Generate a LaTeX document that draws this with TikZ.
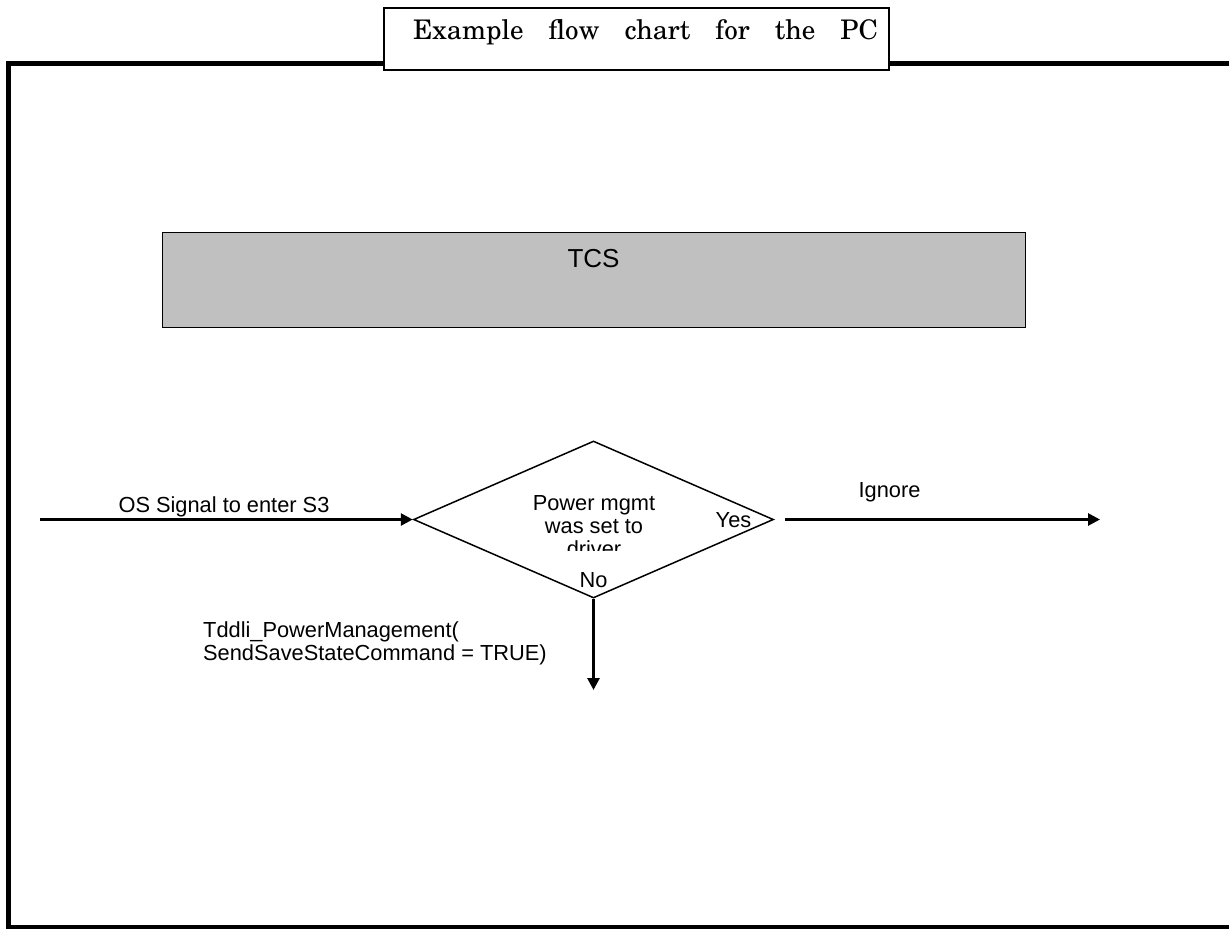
\documentclass[tikz,border=0pt]{standalone}
\usepackage[T1]{fontenc}
\usepackage{fontspec}
\setmainfont{Liberation Sans}
\usetikzlibrary{shapes.geometric,arrows.meta}
\definecolor{boxgray}{HTML}{C0C0C0}
\newcommand{\titlefont}{\fontencoding{T1}\fontfamily{pnc}\fontsize{27}{30}\selectfont}
\tikzset{
  flowarrow/.style={line width=2.8pt,-{Triangle[length=12pt,width=12pt]}},
  lbl/.style={inner sep=0pt,anchor=base,font=\fontsize{21.8}{23}\selectfont},
}
\begin{document}
\begin{tikzpicture}[x=1pt,y=-1pt]
\useasboundingbox (0,0) rectangle (1229,929);
\begin{scope}
\clip (0,0) rectangle (1229,929);
% outer frame: open on the right
\draw[line width=5.5pt] (1240,927.5) -- (8.5,927.5) -- (8.5,63.5) -- (1240,63.5);
\end{scope}
% title tab
\node[draw,line width=1.5pt,fill=white,minimum width=505pt,minimum height=62pt,inner sep=0pt,anchor=north west]
  (title) at (383,7) {};
\node[inner sep=0pt,anchor=base] (titletext) at (645.5,39)
  {\titlefont\makebox[465pt][s]{Example flow chart for the PC}};
% TCS block
\node[draw,line width=1.2pt,fill=boxgray,minimum width=863pt,minimum height=95pt,inner sep=0pt,anchor=north west]
  (tcs) at (162,232) {};
\node[lbl,font=\fontsize{26}{28}\selectfont] (tcstext) at (593.5,267) {TCS};
% decision
\node[draw,diamond,line width=1.5pt,minimum width=360pt,minimum height=157pt,inner sep=0pt]
  (dec) at (593.5,519.5) {};
\begin{scope}
\clip (450,480) rectangle (740,550);
\node[lbl,align=center,anchor=north] (dectext) at (594,495) {Power mgmt\\was set to\\driver};
\end{scope}
\node[lbl] (yes) at (733.5,527) {Yes};
\node[lbl] (no) at (593.5,587) {No};
% connectors
\coordinate (in) at (40,519.5);
\coordinate (yesstart) at (785,519.5);
\coordinate (yesend) at (1100,519.5);
\coordinate (noend) at (593.5,690);
\draw[flowarrow] (in) -- (dec.west);
\draw[flowarrow] (yesstart) -- (yesend);
\draw[flowarrow] (dec.south) -- (noend);
\node[lbl] (oslbl) at (224,512) {OS Signal to enter S3};
\node[lbl] (ignlbl) at (889.5,497) {Ignore};
\node[lbl,align=left,anchor=north west] (calllbl) at (203,621) {Tddli\_PowerManagement(\\SendSaveStateCommand = TRUE)};
\end{tikzpicture}
\end{document}
